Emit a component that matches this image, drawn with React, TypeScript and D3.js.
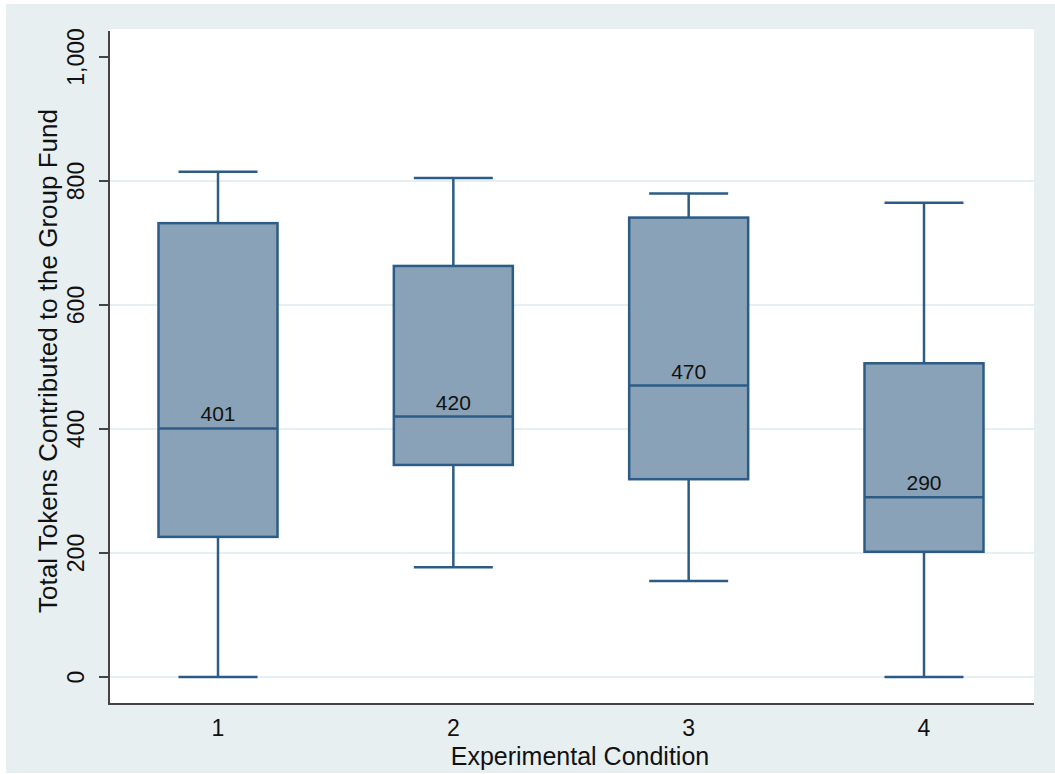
import React from "react";
import * as d3 from "d3";

const categories = ["1", "2", "3", "4"];
const lowerWhisker = [0, 177, 155, 0];
const q1 = [226, 342, 319, 202];
const median = [401, 420, 470, 290];
const q3 = [732, 663, 741, 506];
const upperWhisker = [815, 805, 780, 765];
const yTicks = [0, 200, 400, 600, 800, 1000];
const gridValues = [0, 200, 400, 600, 800];

const W = 1055;
const H = 774;
const plotL = 109;
const plotR = 1034;
const plotT = 29;
const plotB = 704;

export default function App() {
  const y = d3.scaleLinear().domain([0, 1000]).range([677, 57]);
  const x = d3.scalePoint<string>().domain(categories).range([218, 924]);
  const boxW = 119;
  const capW = 79;
  const stroke = "#2c5c86";
  const fill = "#8aa2b7";
  const font = "'Liberation Sans', Arial, Helvetica, sans-serif";
  const fmt = d3.format(",");

  return (
    <svg width={W} height={H} style={{ position: "absolute", left: 0, top: 0 }}>
      <rect x={6} y={4} width={W - 6} height={769} fill="#e8eff1" />
      <rect x={plotL} y={plotT} width={plotR - plotL} height={plotB - plotT} fill="#ffffff" />
      {gridValues.map((v) => (
        <line key={"g" + v} x1={plotL} x2={plotR} y1={y(v)} y2={y(v)} stroke="#e6eff2" strokeWidth={2} />
      ))}
      {categories.map((c, i) => {
        const cx = x(c)!;
        return (
          <g key={c}>
            <line x1={cx} x2={cx} y1={y(upperWhisker[i])} y2={y(q3[i])} stroke={stroke} strokeWidth={2.5} />
            <line x1={cx} x2={cx} y1={y(q1[i])} y2={y(lowerWhisker[i])} stroke={stroke} strokeWidth={2.5} />
            <line x1={cx - capW / 2} x2={cx + capW / 2} y1={y(upperWhisker[i])} y2={y(upperWhisker[i])} stroke={stroke} strokeWidth={2.5} />
            <line x1={cx - capW / 2} x2={cx + capW / 2} y1={y(lowerWhisker[i])} y2={y(lowerWhisker[i])} stroke={stroke} strokeWidth={2.5} />
            <rect x={cx - boxW / 2} y={y(q3[i])} width={boxW} height={y(q1[i]) - y(q3[i])} fill={fill} stroke={stroke} strokeWidth={2.5} />
            <line x1={cx - boxW / 2} x2={cx + boxW / 2} y1={y(median[i])} y2={y(median[i])} stroke={stroke} strokeWidth={2.5} />
            <text x={cx} y={y(median[i]) - 7} textAnchor="middle" fontFamily={font} fontSize={21} fill="#111">
              {median[i]}
            </text>
            <text x={cx} y={736} textAnchor="middle" fontFamily={font} fontSize={23} fill="#111">
              {c}
            </text>
          </g>
        );
      })}
      <line x1={plotL} x2={plotL} y1={31} y2={plotB + 1} stroke="#444" strokeWidth={2} />
      <line x1={plotL} x2={plotR} y1={plotB} y2={plotB} stroke="#444" strokeWidth={2} />
      {yTicks.map((v) => (
        <g key={"t" + v}>
          <line x1={99} x2={plotL} y1={y(v)} y2={y(v)} stroke="#444" strokeWidth={2} />
          <text
            transform={`translate(${84},${y(v)}) rotate(-90)`}
            textAnchor="middle"
            fontFamily={font}
            fontSize={23}
            fill="#111"
          >
            {fmt(v)}
          </text>
        </g>
      ))}
      <text
        transform={`translate(${57},${361}) rotate(-90)`}
        textAnchor="middle"
        fontFamily={font}
        fontSize={26}
        fill="#111"
      >
        Total Tokens Contributed to the Group Fund
      </text>
      <text x={580} y={765} textAnchor="middle" fontFamily={font} fontSize={25} fill="#111">
        Experimental Condition
      </text>
    </svg>
  );
}
